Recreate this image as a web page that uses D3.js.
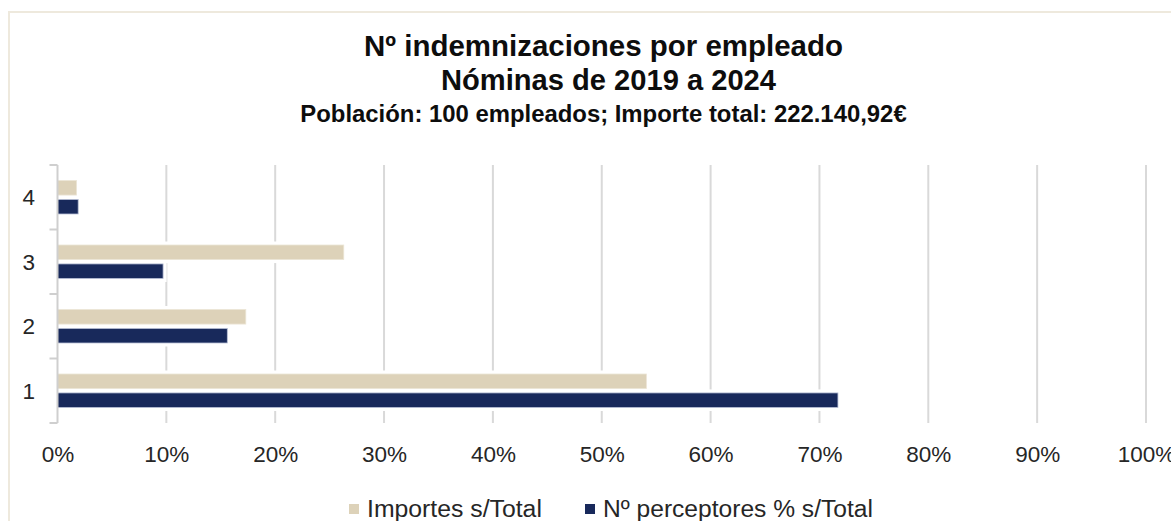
<!DOCTYPE html>
<html>
<head>
<meta charset="utf-8">
<script src="https://cdn.jsdelivr.net/npm/d3@7"></script>
<style>
  html, body { margin: 0; padding: 0; background: #ffffff; }
  svg { display: block; }
</style>
</head>
<body>
<svg id="chart" width="1171" height="521"></svg>
<script>
// ---- data ----
const categories = ["1", "2", "3", "4"];
const seriesNames = ["Importes s/Total", "Nº perceptores % s/Total"];
const importes = [54.1, 17.3, 26.3, 1.75];
const perceptores = [71.7, 15.6, 9.7, 1.9];
const xTicks = [0, 10, 20, 30, 40, 50, 60, 70, 80, 90, 100];
const titleLines = ["Nº indemnizaciones por empleado", "Nóminas de 2019 a 2024"];
const subtitle = "Población: 100 empleados; Importe total: 222.140,92€";
const seriesColors = ["#ddd2b9", "#18295b"];

// ---- layout ----
const svg = d3.select("#chart");
const W = 1171, H = 521;
const plotTop = 165, plotBottom = 423;
const fontBase = "'Liberation Sans', Arial, sans-serif";

function fitWidth(sel, size, target) {
  sel.attr("font-size", size);
  const w = sel.node().getComputedTextLength();
  if (w > 0) sel.attr("font-size", size * target / w);
  return sel;
}

svg.append("rect").attr("width", W).attr("height", H).attr("fill", "#fff");
// outer border (top + left)
svg.append("path")
  .attr("d", `M9,${H} L9,12 L${W},12`)
  .attr("fill", "none").attr("stroke", "#eee9dd").attr("stroke-width", 2);

// titles
const t1 = svg.append("text").attr("x", 603.5).attr("y", 56).attr("text-anchor", "middle")
  .attr("font-family", fontBase).attr("font-weight", "bold")
  .attr("fill", "#0d0d0d").text(titleLines[0]);
fitWidth(t1, 28.5, 479);
const t2 = svg.append("text").attr("x", 608.5).attr("y", 90).attr("text-anchor", "middle")
  .attr("font-family", fontBase).attr("font-weight", "bold")
  .attr("fill", "#0d0d0d").text(titleLines[1]);
fitWidth(t2, 28.5, 335);
const sub = svg.append("text").attr("x", 603.5).attr("y", 122).attr("text-anchor", "middle")
  .attr("font-family", fontBase).attr("font-weight", "bold")
  .attr("fill", "#0d0d0d").text(subtitle);
fitWidth(sub, 20, 607);

// scales
const x = d3.scaleLinear().domain([0, 100]).range([57.5, 1146]);
const y = d3.scaleBand().domain(categories.slice().reverse()).range([plotTop, plotBottom]);
const inner = d3.scaleBand().domain([0, 1]).range([15.5, 49]).paddingInner(0.23);

// gridlines
svg.append("g").selectAll("line").data(xTicks.filter(d => d > 0)).join("line")
  .attr("x1", d => x(d)).attr("x2", d => x(d))
  .attr("y1", plotTop).attr("y2", plotBottom)
  .attr("stroke", "#d9d9d9").attr("stroke-width", 2);

// bar data
const bars = [];
categories.forEach((c, i) => {
  bars.push({ cat: c, s: 0, v: importes[i] });
  bars.push({ cat: c, s: 1, v: perceptores[i] });
});

// white halos (cover gridlines near bars)
svg.append("g").selectAll("rect").data(bars).join("rect")
  .attr("x", x(0) + 1)
  .attr("y", d => y(d.cat) + inner(d.s) - 3.5)
  .attr("width", d => x(d.v) - x(0) + 2.5)
  .attr("height", inner.bandwidth() + 7)
  .attr("fill", "#ffffff");

// bars
svg.append("g").selectAll("rect").data(bars).join("rect")
  .attr("x", x(0))
  .attr("y", d => y(d.cat) + inner(d.s))
  .attr("width", d => x(d.v) - x(0))
  .attr("height", inner.bandwidth())
  .attr("fill", d => seriesColors[d.s])
  .attr("stroke", d => d.s === 1 ? "#b9c0d6" : "#ece5d6")
  .attr("stroke-width", 0.8);

// y axis line + boundary ticks
svg.append("line").attr("x1", x(0)).attr("x2", x(0))
  .attr("y1", plotTop).attr("y2", plotBottom)
  .attr("stroke", "#cfcfcf").attr("stroke-width", 2);
const boundaries = categories.slice().reverse().map(c => y(c)).concat([plotBottom]);
svg.append("g").selectAll("line").data(boundaries).join("line")
  .attr("x1", x(0) - 8).attr("x2", x(0))
  .attr("y1", d => d).attr("y2", d => d)
  .attr("stroke", "#cfcfcf").attr("stroke-width", 2);

// y axis labels
const yAxis = svg.append("g").attr("transform", `translate(35,0)`)
  .call(d3.axisLeft(y).tickSize(0).tickPadding(0));
yAxis.select(".domain").remove();
yAxis.selectAll("text")
  .attr("font-family", fontBase)
  .attr("font-size", 22.5).attr("fill", "#262626").attr("dy", "0.36em");

// x axis labels
const xAxis = svg.append("g").attr("transform", `translate(0,462)`)
  .call(d3.axisBottom(x).tickValues(xTicks).tickFormat(d => d + "%").tickSize(0).tickPadding(0));
xAxis.select(".domain").remove();
xAxis.selectAll("text")
  .attr("y", 0).attr("dy", 0)
  .attr("font-family", fontBase)
  .attr("font-size", 22.5).attr("fill", "#262626");

// legend
const legendItems = [
  { name: seriesNames[0], color: seriesColors[0], sx: 349, tx: 367, w: 175 },
  { name: seriesNames[1], color: seriesColors[1], sx: 585, tx: 603, w: 270 }
];
const lg = svg.append("g");
legendItems.forEach(it => {
  lg.append("rect").attr("x", it.sx).attr("y", 504).attr("width", 10).attr("height", 10)
    .attr("fill", it.color);
  const t = lg.append("text").attr("x", it.tx).attr("y", 517)
    .attr("font-family", fontBase)
    .attr("fill", "#262626").text(it.name);
  fitWidth(t, 23, it.w);
});
</script>
</body>
</html>
